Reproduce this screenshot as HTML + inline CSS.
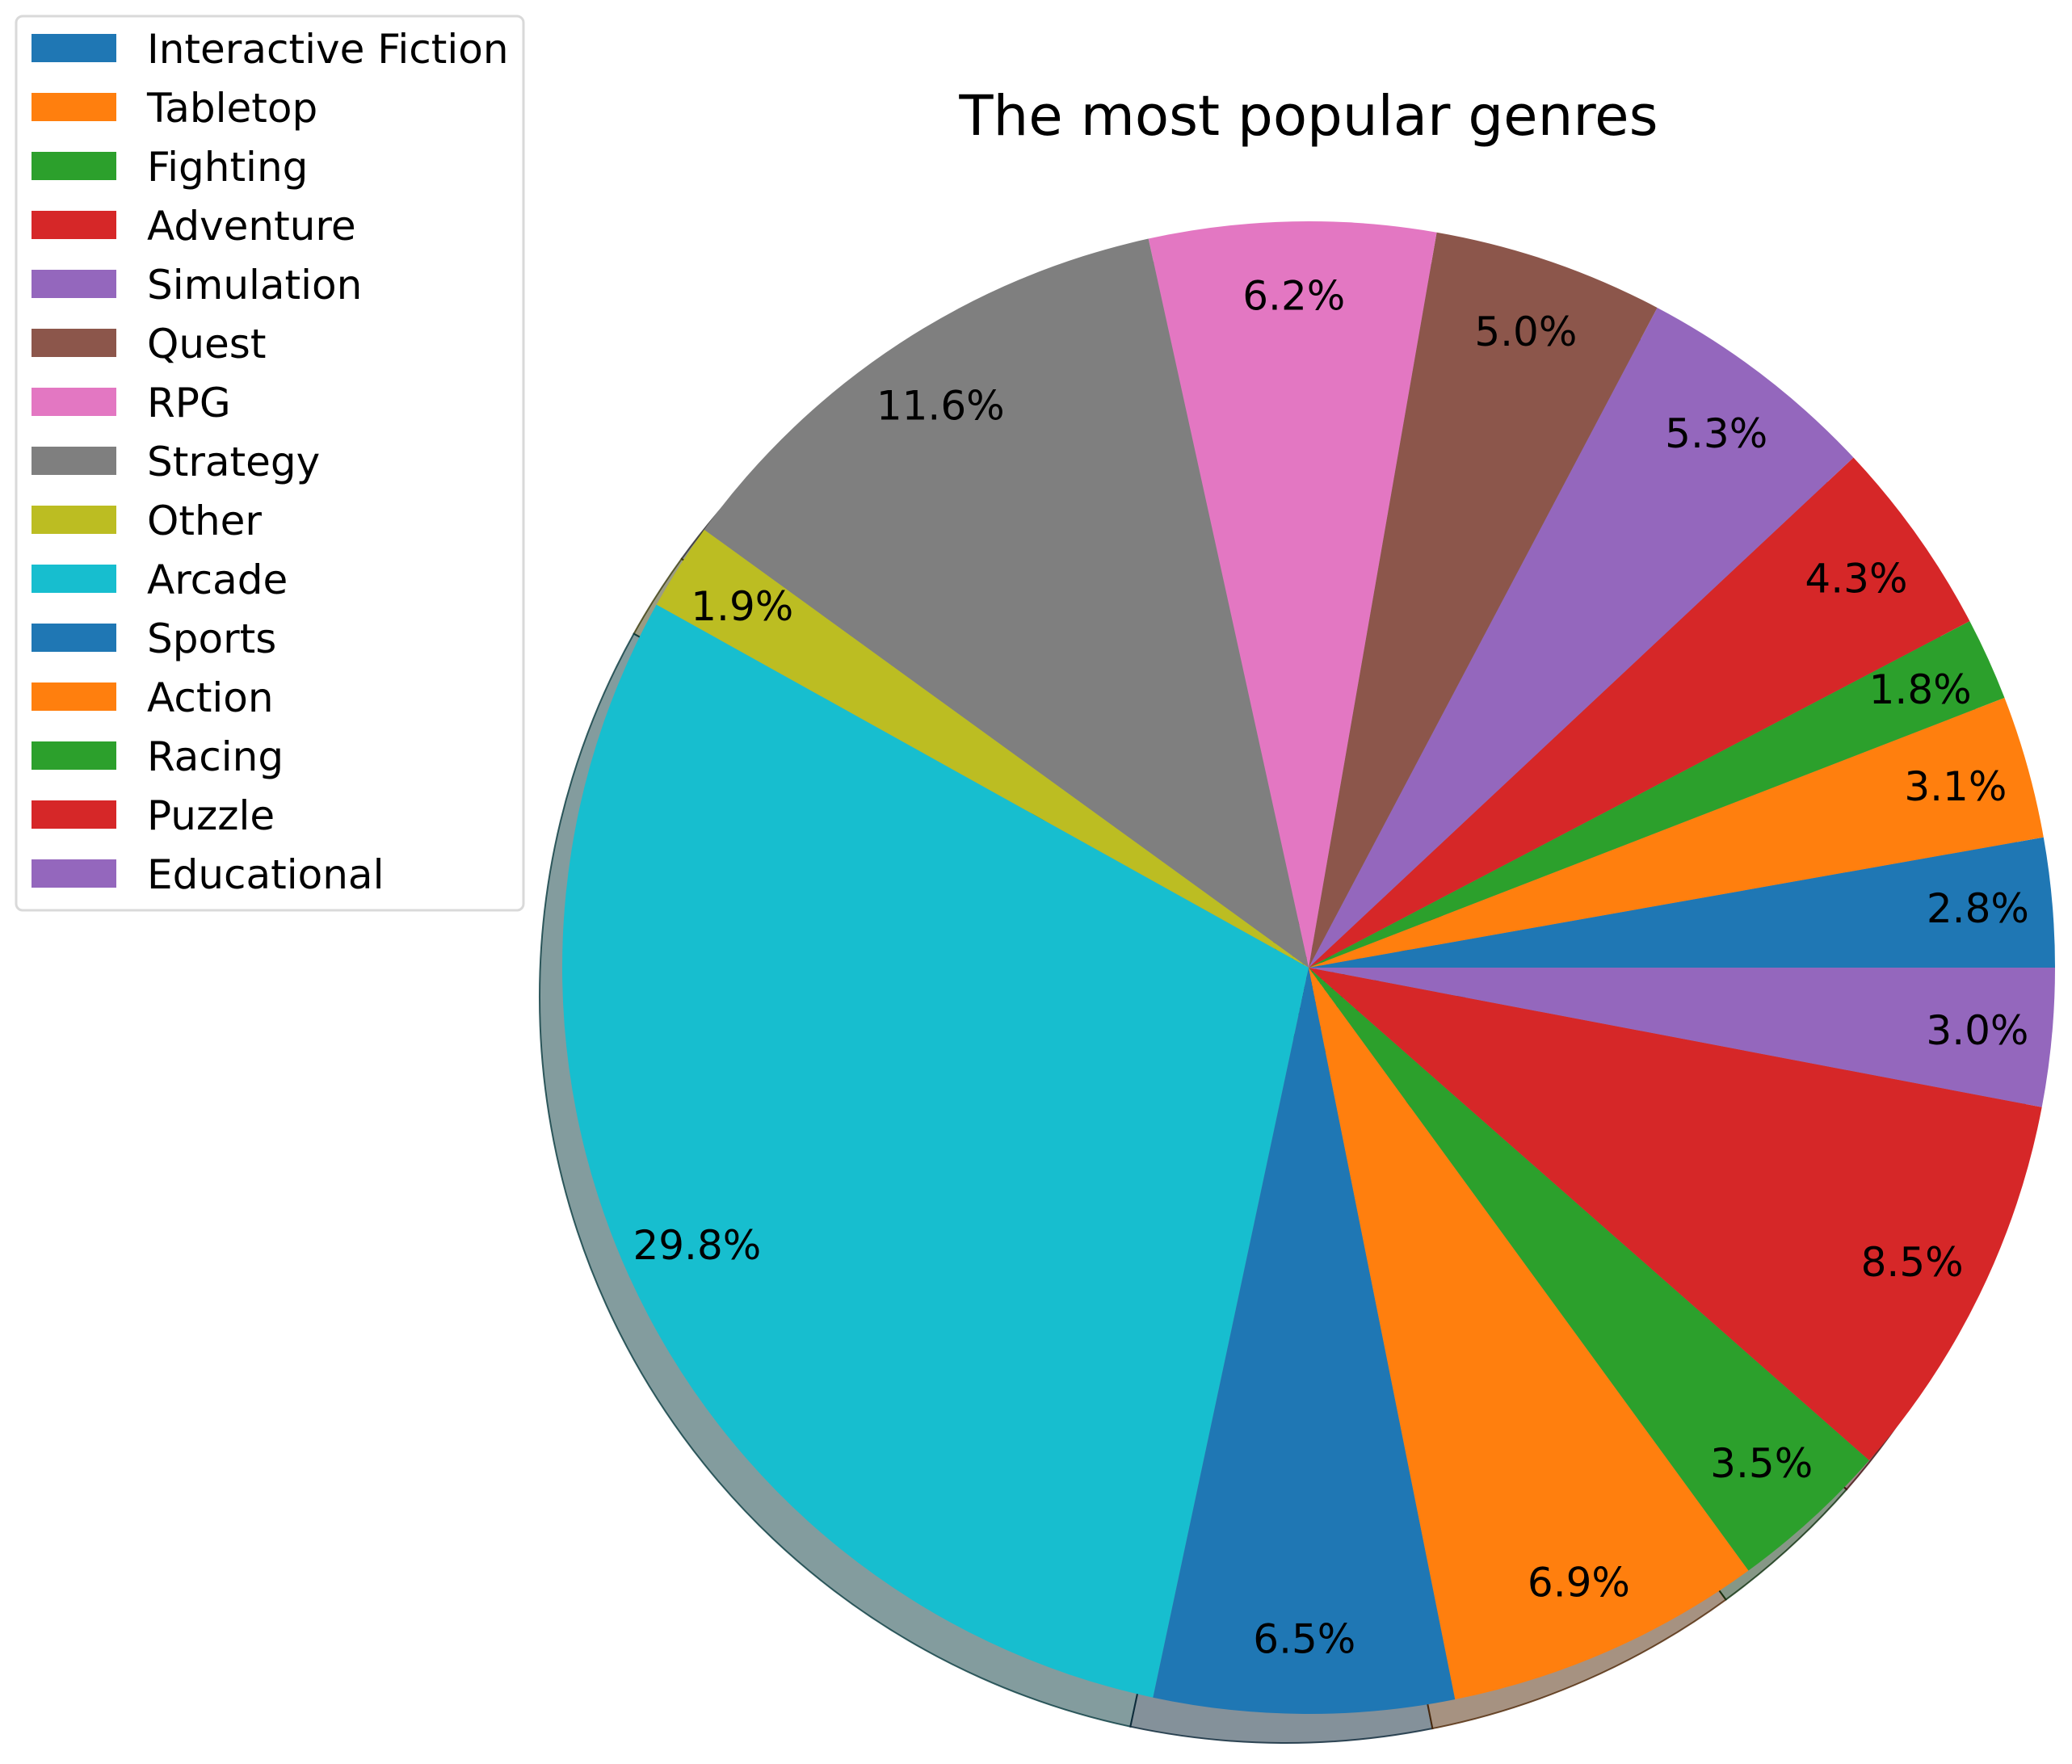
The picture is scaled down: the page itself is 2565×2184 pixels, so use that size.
<!DOCTYPE html>
<html><head><meta charset="utf-8"><style>
html,body{margin:0;padding:0;background:#fff;}
svg{display:block;font-family:"DejaVu Sans","Liberation Sans",sans-serif;}
</style></head><body>
<svg id="chart" width="2565" height="2184" viewBox="0 0 2565 2184">
<text x="1620" y="167" font-size="69" text-anchor="middle">The most popular genres</text>
<g id="shadows"></g>
<g id="wedges"></g>
<g id="labels"></g>
<g id="legend">
<rect x="20" y="20" width="628" height="1107" rx="8" fill="#fff" fill-opacity="0.8" stroke="#d9d9d9" stroke-width="3"/>
</g>
</svg>
<script>
const categories = ["Interactive Fiction","Tabletop","Fighting","Adventure","Simulation","Quest","RPG","Strategy","Other","Arcade","Sports","Action","Racing","Puzzle","Educational"];
const values = [2.8,3.1,1.8,4.3,5.3,5.0,6.2,11.6,1.9,29.8,6.5,6.9,3.5,8.5,3.0];
const colors = ["#1f77b4","#ff7f0e","#2ca02c","#d62728","#9467bd","#8c564b","#e377c2","#7f7f7f","#bcbd22","#17becf"];
const NS="http://www.w3.org/2000/svg";
const cx=1620, cy=1198, R=924, sdx=-28, sdy=36, pctDist=0.9;
const total=values.reduce((a,b)=>a+b,0);
function angleOf(v){return v/total*2*Math.PI;}
function pt(a,r,ox,oy){return [ox+r*Math.cos(a), oy-r*Math.sin(a)];}
function wedgePath(a0,a1,ox,oy){
  const p0=pt(a0,R,ox,oy), p1=pt(a1,R,ox,oy);
  const large=(a1-a0)>Math.PI?1:0;
  return `M${ox},${oy} L${p0[0]},${p0[1]} A${R},${R} 0 ${large} 0 ${p1[0]},${p1[1]} Z`;
}
function hexToRgb(h){return [parseInt(h.substr(1,2),16),parseInt(h.substr(3,2),16),parseInt(h.substr(5,2),16)];}
const gS=document.getElementById('shadows'), gW=document.getElementById('wedges'), gL=document.getElementById('labels'), gLeg=document.getElementById('legend');
let a=0;
values.forEach((v,i)=>{
  const a0=a, a1=a+angleOf(v); a=a1;
  const col=colors[i%colors.length];
  const rgb=hexToRgb(col).map(c=>Math.round(c*0.3));
  const sc=`rgb(${rgb[0]},${rgb[1]},${rgb[2]})`;
  const s=document.createElementNS(NS,'path');
  s.setAttribute('d',wedgePath(a0,a1,cx+sdx,cy+sdy));
  s.setAttribute('fill',sc);s.setAttribute('fill-opacity','0.5');
  s.setAttribute('stroke',sc);s.setAttribute('stroke-opacity','0.8');s.setAttribute('stroke-width','2');
  
  
  gS.appendChild(s);
  const w=document.createElementNS(NS,'path');
  w.setAttribute('d',wedgePath(a0,a1,cx,cy));
  w.setAttribute('fill',col);
  
  
  gW.appendChild(w);
  const m=(a0+a1)/2, lp=pt(m,R*pctDist,cx,cy);
  const t=document.createElementNS(NS,'text');
  t.setAttribute('x',lp[0]);t.setAttribute('y',lp[1]);
  t.setAttribute('font-size','50');t.setAttribute('text-anchor','middle');t.setAttribute('dominant-baseline','central');
  t.textContent=v.toFixed(1)+'%';
  
  
  gL.appendChild(t);
  const y=42+i*73;
  const r=document.createElementNS(NS,'rect');
  r.setAttribute('x',39);r.setAttribute('y',y);r.setAttribute('width',105);r.setAttribute('height',35);r.setAttribute('fill',col);
  
  
  gLeg.appendChild(r);
  const lt=document.createElementNS(NS,'text');
  lt.setAttribute('x',182);lt.setAttribute('y',y+36);lt.setAttribute('font-size','50');
  lt.textContent=categories[i];
  
  
  gLeg.appendChild(lt);
});
</script>
</body></html>
